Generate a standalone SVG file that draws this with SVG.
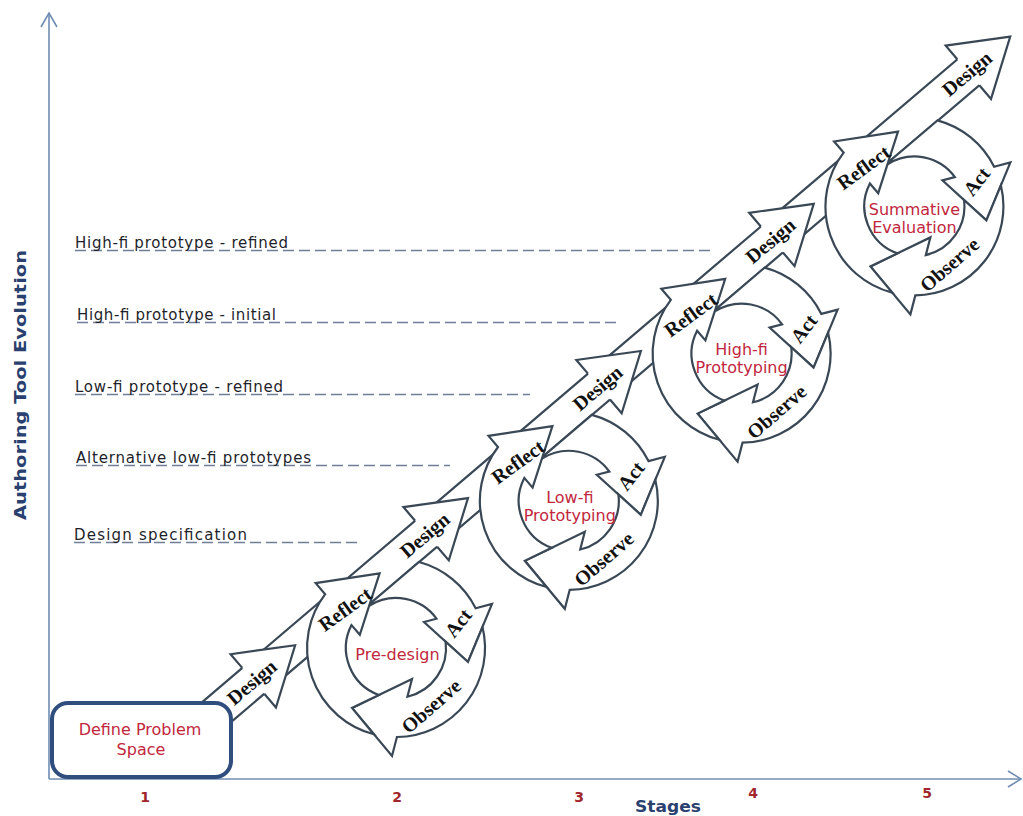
<svg xmlns="http://www.w3.org/2000/svg" xmlns:xlink="http://www.w3.org/1999/xlink" width="1023" height="816" viewBox="0 0 1023 816">
  <defs>
    <style>
      .shape{fill:#fff;stroke:#3a4856;stroke-width:2.2;stroke-linejoin:miter}
      .edge{fill:none;stroke:#3a4856;stroke-width:2.2;stroke-linejoin:miter}
      .step{font-family:"Liberation Serif","Times New Roman",serif;font-weight:bold;font-size:20px;fill:#111;text-anchor:middle}
      .phase{font-family:"DejaVu Sans",Verdana,sans-serif;font-size:16px;fill:#c1273d;text-anchor:middle}
      .level{font-family:"DejaVu Sans",Verdana,sans-serif;font-size:15px;fill:#1e1f2b}
      .guide{stroke:#6f7f98;stroke-width:1.3;stroke-dasharray:11 5;fill:none}
      .axis{stroke:#6f8cb3;stroke-width:1.6;fill:none}
      .stage{font-family:"DejaVu Sans",Verdana,sans-serif;font-weight:bold;font-size:14px;fill:#a0262b;text-anchor:middle}
      .title{font-family:"DejaVu Sans",Verdana,sans-serif;font-weight:bold;font-size:15px;fill:#2a4170;text-anchor:middle}
    </style>

    <!-- one turn of the cycle: Act, Observe, Reflect around a ring (outer r 89, inner r 50) -->
    <g id="cycle-arrows">
      <path class="shape" d="M-26.8 -42.2 L-26.3 -44 L23.05 -85.98 A89 89 0 0 1 79.7 -39.7 L96 -44 L72 14 L28 -26 L40.5 -29.3 A50 50 0 0 0 -26.8 -42.2 Z"/>
      <path class="shape" d="M86.5 -21 A89 89 0 0 1 0.94 89 L-4 108 L-44 60 L16 31 L11.4 48.7 A50 50 0 0 0 49.6 -6.4 L72 14 Z"/>
      <path class="shape" d="M-22.2 86.2 A89 89 0 0 1 -70.8 -53.8 L-80.3 -64.9 L-16.4 -74.7 L-36.2 -13.2 L-44.5 -22.9 A50 50 0 0 0 -17.1 47 L-44 60 Z"/>
      <text class="step" transform="translate(-51,-39) rotate(-36)" dy="0.35em">Reflect</text>
      <text class="step" transform="translate(62,-25) rotate(-52)" dy="0.35em">Act</text>
      <text class="step" transform="translate(35,58) rotate(-41)" dy="0.35em">Observe</text>
    </g>

    <!-- straight Design arrowhead, tip at origin, pointing along +x -->
    <g id="design-head">
      <path d="M-55 -17 L-55 -35 L0 0 L-55 35 L-55 17 Z" fill="#fff" stroke="none"/>
      <path class="edge" d="M-55 -17 L-55 -35 L0 0 L-55 35 L-55 17"/>
      <text class="step" x="-57" y="0" dy="0.35em">Design</text>
    </g>
  </defs>

  <rect width="1023" height="816" fill="#fff"/>

  <!-- axes -->
  <g id="axes">
    <path class="axis" d="M49 779 V13"/>
    <path class="axis" d="M41 27 L49 13 L57 27"/>
    <path class="axis" d="M49 779 H1020"/>
    <path class="axis" d="M1008 771 L1021 779 L1008 787"/>
  </g>

  <!-- evolution levels with dashed guides -->
  <g id="level-highfi-refined">
    <path class="guide" d="M75 250.5 H712"/>
    <text class="level" x="75" y="248" textLength="213" lengthAdjust="spacing">High-fi prototype - refined</text>
  </g>
  <g id="level-highfi-initial">
    <path class="guide" d="M77 322.5 H620"/>
    <text class="level" x="77" y="320" textLength="199" lengthAdjust="spacing">High-fi prototype - initial</text>
  </g>
  <g id="level-lowfi-refined">
    <path class="guide" d="M75 394.5 H530"/>
    <text class="level" x="75" y="392" textLength="208" lengthAdjust="spacing">Low-fi prototype - refined</text>
  </g>
  <g id="level-alternatives">
    <path class="guide" d="M76 465.5 H450"/>
    <text class="level" x="76" y="463" textLength="235" lengthAdjust="spacing">Alternative low-fi prototypes</text>
  </g>
  <g id="level-design-spec">
    <path class="guide" d="M74 542.5 H362"/>
    <text class="level" x="74" y="540" textLength="173" lengthAdjust="spacing">Design specification</text>
  </g>

  <!-- diagonal band with the Design arrows -->
  <g id="connectors" transform="translate(396,648) rotate(-40.4)">
    <rect class="shape" x="-205" y="-84.5" width="1020" height="34"/>
    <use xlink:href="#design-head" href="#design-head" transform="translate(-75,-67.5)"/>
    <use xlink:href="#design-head" href="#design-head" transform="translate(152,-67.5)"/>
    <use xlink:href="#design-head" href="#design-head" transform="translate(379,-67.5)"/>
    <use xlink:href="#design-head" href="#design-head" transform="translate(606,-67.5)"/>
    <use xlink:href="#design-head" href="#design-head" transform="translate(864,-67.5)"/>
  </g>

  <!-- cycles -->
  <g id="cycle-pre-design" transform="translate(396,648)">
    <use xlink:href="#cycle-arrows" href="#cycle-arrows"/>
    <text class="phase" x="1.5" y="12">Pre-design</text>
  </g>
  <g id="cycle-lowfi-prototyping" transform="translate(568.8,500.8)">
    <use xlink:href="#cycle-arrows" href="#cycle-arrows"/>
    <text class="phase" x="1" y="2">Low-fi</text>
    <text class="phase" x="1" y="20">Prototyping</text>
  </g>
  <g id="cycle-highfi-prototyping" transform="translate(741.6,353.6)">
    <use xlink:href="#cycle-arrows" href="#cycle-arrows"/>
    <text class="phase" x="0" y="1.5">High-fi</text>
    <text class="phase" x="0" y="19.5">Prototyping</text>
  </g>
  <g id="cycle-summative-evaluation" transform="translate(914.4,206.4)">
    <use xlink:href="#cycle-arrows" href="#cycle-arrows"/>
    <text class="phase" x="0" y="8.5">Summative</text>
    <text class="phase" x="0" y="26.5">Evaluation</text>
  </g>

  <!-- starting box -->
  <g id="node-define-problem-space">
    <rect x="52" y="703" width="179" height="74" rx="16" fill="#fff" stroke="#2f4d7d" stroke-width="4"/>
    <text class="phase" x="140" y="735">Define Problem</text>
    <text class="phase" x="141" y="755">Space</text>
  </g>

  <!-- axis labels -->
  <g id="stage-labels">
    <text class="stage" x="145" y="802">1</text>
    <text class="stage" x="397" y="802">2</text>
    <text class="stage" x="579" y="802">3</text>
    <text class="stage" x="753" y="798">4</text>
    <text class="stage" x="927" y="798">5</text>
    <text class="title" x="668" y="812" textLength="66" lengthAdjust="spacingAndGlyphs">Stages</text>
  </g>
  <text class="title" transform="translate(26,385) rotate(-90)" textLength="270" lengthAdjust="spacingAndGlyphs">Authoring Tool Evolution</text>
</svg>
